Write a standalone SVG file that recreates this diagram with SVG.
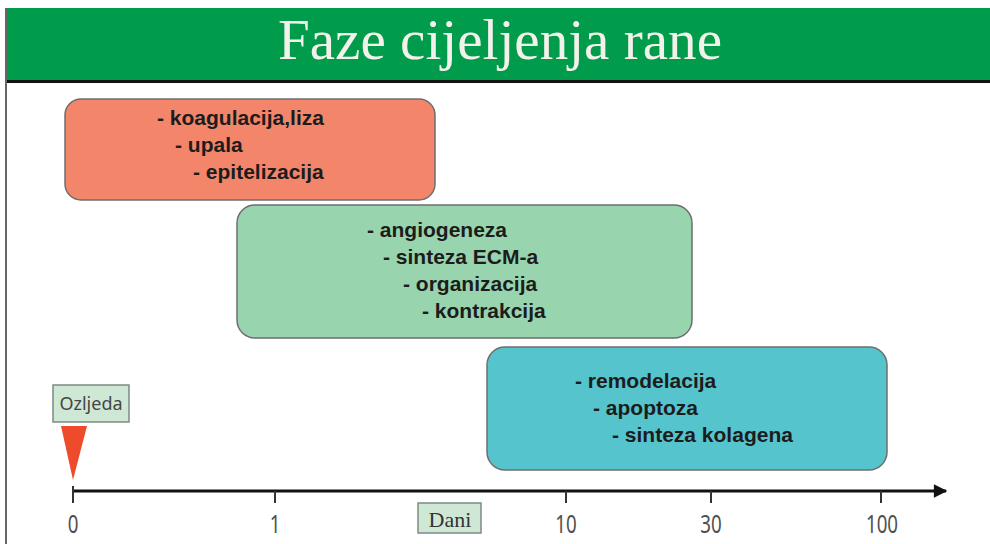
<svg xmlns="http://www.w3.org/2000/svg" width="990" height="544" viewBox="0 0 990 544">
<defs>
<style>
.phase{stroke:#6e6e6e;stroke-width:1.5}
.t{font-family:"Liberation Sans",Arial,sans-serif;font-weight:bold;font-size:21px;fill:#1c1c1c}
.lbl{font-family:"Noto Sans","DejaVu Sans",sans-serif;font-size:25px;fill:#505050;text-anchor:middle}
.tag{fill:#cfe8d6;stroke:#7c8c80;stroke-width:1.5}
.tick{stroke:#333;stroke-width:2}
</style>
<marker id="arr" viewBox="0 0 10 10" refX="9" refY="5" markerWidth="5" markerHeight="4.5" orient="auto" markerUnits="strokeWidth">
<path d="M0,0 L10,5 L0,10 z" fill="#111"/>
</marker>
</defs>
<rect width="990" height="544" fill="#ffffff"/>
<g id="title">
<rect x="5" y="8" width="985" height="72" fill="#009B4B"/>
<rect x="5" y="80" width="985" height="3" fill="#111"/>
<text x="500" y="59" font-family="Liberation Serif,Times New Roman,serif" font-size="56" fill="#f2f2ea" text-anchor="middle" textLength="444" lengthAdjust="spacingAndGlyphs">Faze cijeljenja rane</text>
</g>
<line x1="6" y1="8" x2="6" y2="544" stroke="#666" stroke-width="2"/>
<g id="phase-upala">
<rect class="phase" x="65" y="99" width="370" height="101" rx="16" fill="#F3866A"/>
<text class="t" x="157" y="125">- koagulacija,liza</text>
<text class="t" x="175" y="152">- upala</text>
<text class="t" x="193" y="179">- epitelizacija</text>
</g>
<g id="phase-proliferacija">
<rect class="phase" x="237" y="205" width="455" height="133" rx="18" fill="#98D4AE"/>
<text class="t" x="367" y="237">- angiogeneza</text>
<text class="t" x="383" y="264">- sinteza ECM-a</text>
<text class="t" x="403" y="291">- organizacija</text>
<text class="t" x="422" y="318">- kontrakcija</text>
</g>
<g id="phase-remodelacija">
<rect class="phase" x="487" y="347" width="400" height="123" rx="18" fill="#55C4CD"/>
<text class="t" x="575" y="388">- remodelacija</text>
<text class="t" x="593" y="415">- apoptoza</text>
<text class="t" x="612" y="442">- sinteza kolagena</text>
</g>
<g id="ozljeda">
<rect class="tag" x="53" y="385" width="76" height="37"/>
<text x="91" y="410" font-family="Noto Sans,DejaVu Sans,sans-serif" font-size="18" fill="#454545" text-anchor="middle">Ozljeda</text>
<polygon points="61,426 87,426 73,480" fill="#EE4A2C"/>
</g>
<g id="connectors">
<line x1="72" y1="491" x2="946" y2="491" stroke="#111" stroke-width="3" marker-end="url(#arr)"/>
<line class="tick" x1="73" y1="486" x2="73" y2="503"/>
<line class="tick" x1="275" y1="491" x2="275" y2="503"/>
<line class="tick" x1="566" y1="491" x2="566" y2="503"/>
<line class="tick" x1="711" y1="491" x2="711" y2="503"/>
<line class="tick" x1="881" y1="491" x2="881" y2="503"/>
</g>
<g id="axis-labels">
<text class="lbl" transform="translate(73,533) scale(0.75,1)">0</text>
<text class="lbl" transform="translate(275,533) scale(0.75,1)">1</text>
<text class="lbl" transform="translate(566,533) scale(0.75,1)">10</text>
<text class="lbl" transform="translate(711,533) scale(0.75,1)">30</text>
<text class="lbl" transform="translate(882,533) scale(0.75,1)">100</text>
</g>
<g id="dani">
<rect class="tag" x="418" y="503" width="63" height="30"/>
<text x="450" y="527" font-family="Liberation Serif,Times New Roman,serif" font-size="22" fill="#333" text-anchor="middle">Dani</text>
</g>
</svg>
